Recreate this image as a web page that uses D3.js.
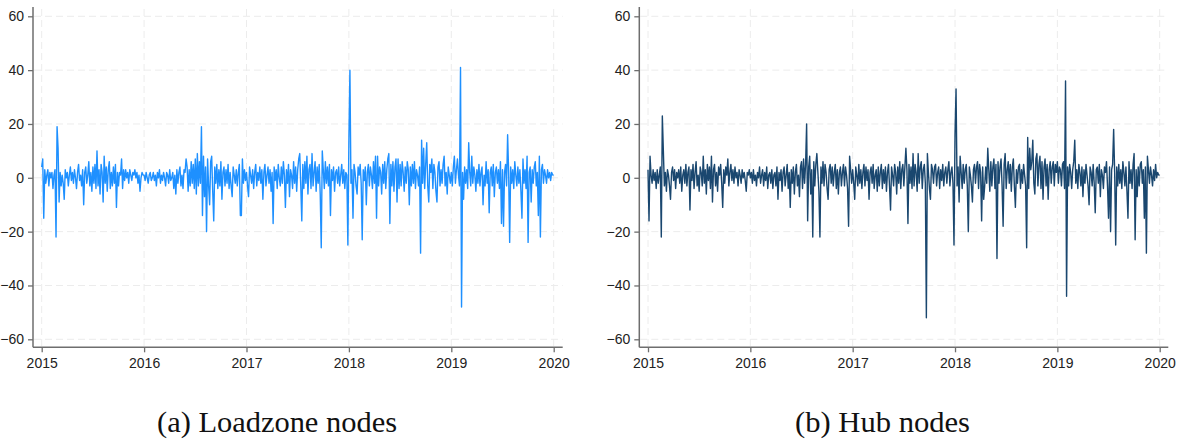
<!DOCTYPE html>
<html><head><meta charset="utf-8">
<script src="https://cdn.jsdelivr.net/npm/d3@7"></script>
<style>body{margin:0;background:#fff} svg{display:block}</style>
</head><body>
<svg id="c" width="1183" height="439"></svg>
<script>
// ---- data ----
const years = [2015, 2016, 2017, 2018, 2019];
const yTicks = [-60, -40, -20, 0, 20, 40, 60];
const xTicks = [2015, 2016, 2017, 2018, 2019, 2020];
const captions = ["(a) Loadzone nodes", "(b) Hub nodes"];

// Loadzone nodes (estimated values, ~100 samples per year)
const lz2015 = [4,7,-15,3,-2,1,3,-3,2,0, 2,-4,1,3,-22,19,11,-9,2,-3, 1,-2,-8,3,0,2,-3,1,4,-1, 2,-2,3,0,-4,2,5,-1,1,-3,
  3,-10,2,4,-2,1,6,-3,2,-5, 4,-2,5,-4,10,-3,3,-6,5,2, -9,8,-2,4,-5,3,6,-4,2,-3, 4,-2,5,-11,2,-3,2,1,7,-4,
  3,-1,3,0,2,-2,3,1,-1,2, 1,3,0,2,-2,1,-5,0,2,1];
const lz2016 = [1,-1,2,0,-2,1,2,-1,0,2, -1,1,-3,2,0,3,-2,1,-1,2, 0,-3,2,1,-2,3,-1,0,2,-4, 1,-6,3,-2,2,4,-3,1,-4,3,
  2,7,4,-5,3,-3,6,-2,5,-4, 7,-6,9,-3,6,-2,19,-14,8,-7, 4,-20,7,-3,-10,6,8,-5,-16,4, -2,5,-4,3,-3,6,-8,2,4,-3,
  3,-2,5,-4,2,-3,-7,4,1,-2, 3,-3,2,5,-14,-14,7,-2,3,-1];
const lz2017 = [2,-3,-7,4,1,-2,3,-4,2,5, -3,2,-1,4,-2,3,-8,2,5,-3, 1,4,-2,3,-5,2,-17,4,-1,3, -4,5,0,-3,4,-2,6,1,-11,3,
  -2,5,-7,3,1,-4,6,-2,4,-5, 3,7,9,-3,-16,5,-4,6,-2,8, -6,3,5,-4,9,-3,2,6,-5,4, -2,5,-6,-26,10,3,-4,6,-2,4,
  -3,5,-14,3,-1,4,-5,2,3,-2, 4,-3,1,5,-2,3,-4,2,1,-25];
const lz2018 = [14,40,-2,3,-15,5,2,-3,-6,4, 1,5,-2,-23,3,-1,4,-10,2,5, -3,4,1,-4,6,-2,8,-15,8,-3, 4,2,-6,5,-2,6,-4,3,7,9,
  -17,5,-3,6,-5,4,7,-9,7,-4, 5,-3,6,2,-5,4,-2,6,3,-10, 4,-3,5,-2,6,-4,3,1,-3,4, -28,14,-2,11,-4,5,13,-3,-9,5,
  2,7,-4,5,2,-5,-9,4,6,-3, 3,-2,5,8,-3,2,-6,4,1,-2];
const lz2019 = [2,-3,4,8,-2,3,7,1,-3,41, -48,2,-8,4,-2,3,-4,13,2,-3, 8,-2,4,1,-5,3,-2,5,-3,2, 4,-10,1,-3,6,-2,3,-13,2,4,
  -3,5,-7,2,4,-2,3,-4,6,-17, 3,-18,2,5,-3,16,2,-24,4,-2, 3,-4,6,1,-3,4,-2,3,-5,-15, 7,-2,3,-4,8,-24,2,4,-9,3,
  -2,4,6,-3,2,-14,8,-22,3,5, -2,3,1,-2,3,0,2,-1,2,1];
const lzEnd = 1;

// Hub nodes (estimated values, ~100 samples per year)
const hub2015 = [3,-16,8,1,-2,3,-1,2,-4,3, -2,1,4,-22,23,10,-3,2,-5,3, 1,-3,-8,2,4,-1,3,-4,2,0, 3,-2,4,-5,1,3,-2,5,-3,2,
  4,-12,3,-1,5,-4,2,6,-3,1, -5,4,2,-3,8,-2,3,-6,5,-1, 4,-4,8,-9,3,5,-3,2,-5,4, 1,5,-2,-11,3,-2,4,1,7,-3,
  2,5,-1,3,-2,4,0,2,-3,3, 1,-2,3,0,2,-1,-5,2,1,3];
const hub2016 = [0,2,-2,3,-1,1,-3,2,0,4, -2,1,3,-3,2,-1,4,-4,1,2, -2,3,-4,1,2,-3,4,-8,2,-1, 3,-5,2,4,-3,1,5,-4,2,-11,
  3,-2,4,-6,2,5,-3,1,-7,4, 6,-4,7,-2,5,20,-16,4,8,-6, 3,-22,6,-3,5,9,2,-5,-22,4, -2,6,-3,5,2,-4,-8,3,5,-2,
  4,-3,2,5,-4,3,-6,2,4,-3, 2,5,-3,4,1,-4,-18,8,3,-2];
const hub2017 = [3,-2,-8,4,1,-3,5,-2,3,-4, 2,5,-3,4,-1,3,-8,2,4,-2, 5,-4,1,3,-5,4,-3,2,5,-4, 3,-2,4,-5,2,5,-3,-12,4,1,
  -3,5,2,-6,4,-2,6,-4,3,5, -3,4,11,3,-17,5,-2,4,-4,9, -3,5,2,-5,9,-2,4,6,-4,3, 5,-2,-52,9,2,-4,-8,5,3,-2,
  4,5,-3,2,4,-4,3,-1,5,-3, 2,4,-2,3,6,-3,2,4,-2,-25];
const hub2018 = [16,33,-3,4,-9,8,2,-4,5,-2, 3,5,-3,-20,4,1,-3,-9,3,5, -2,4,6,-4,5,2,-16,4,-8,-3, 4,-2,11,3,-5,6,-3,4,7,-4,
  5,-30,6,-2,4,7,-3,-18,5,9, -4,3,6,-2,5,-5,4,7,-3,-11, 3,-2,4,5,-4,3,-2,5,1,-3, -26,15,-4,11,3,6,14,-2,-6,7,
  9,-3,5,8,-4,6,-8,4,7,-3, 5,-8,3,6,-2,4,6,-3,5,2];
const hub2019 = [6,-2,4,3,-3,5,6,-4,36,-44, 4,-3,5,2,-4,3,6,14,-2,3, -4,5,2,-3,4,-7,3,-2,5,1, -3,-10,4,2,-3,5,-2,-13,3,4,
  -2,5,-7,3,1,-4,4,2,6,-3, -15,4,-20,3,5,18,2,-25,4,-3, 5,-2,3,-4,6,2,-3,4,-5,-15, 6,-2,3,-4,5,9,-23,3,-7,4,
  -3,5,6,-2,3,-15,4,-28,8,3, -2,4,1,-3,3,-1,5,0,2,1];
const hubEnd = 1;

// ---- build series ----
function series(arrs, endVal) {
  const out = [];
  arrs.forEach((a, k) => a.forEach((v, i) => out.push([years[k] + i / a.length, v])));
  out.push([2020, endVal]);
  return out;
}
const lzSeries = series([lz2015, lz2016, lz2017, lz2018, lz2019], lzEnd);
const hubSeries = series([hub2015, hub2016, hub2017, hub2018, hub2019], hubEnd);

const panels = [
  {data: lzSeries, color: "#1e90ff", axisX: 33, x0: 41.7, x1: 553.7, xEnd: 562.7, cap: captions[0], capX: 277, capW: 240},
  {data: hubSeries, color: "#1a476f", axisX: 639.3, x0: 648, x1: 1159.7, xEnd: 1168.3, cap: captions[1], capX: 882.5, capW: 175}
];

const svg = d3.select("#c");
const yTop = 7, yBot = 347.3;
const y = d3.scaleLinear().domain([-60, 60]).range([339.3, 16.3]);

panels.forEach(p => {
  const g = svg.append("g");
  const x = d3.scaleLinear().domain([2015, 2020]).range([p.x0, p.x1]);

  // grid
  g.append("g").selectAll("line").data(yTicks).join("line")
    .attr("x1", p.axisX + 1).attr("x2", p.xEnd)
    .attr("y1", d => y(d)).attr("y2", d => y(d))
    .attr("stroke", "#ececec").attr("stroke-width", 1).attr("stroke-dasharray", "7,4");
  g.append("g").selectAll("line").data(xTicks).join("line")
    .attr("x1", d => x(d)).attr("x2", d => x(d))
    .attr("y1", yTop + 2).attr("y2", yBot - 1)
    .attr("stroke", "#ececec").attr("stroke-width", 1).attr("stroke-dasharray", "7,4");

  // line
  const line = d3.line().x(d => x(d[0])).y(d => y(d[1]));
  g.append("path").datum(p.data).attr("d", line)
    .attr("fill", "none").attr("stroke", p.color).attr("stroke-width", 1.4)
    .attr("stroke-linejoin", "round");

  // axes
  const ya = g.append("g").attr("transform", `translate(${p.axisX},0)`)
    .call(d3.axisLeft(y).tickValues(yTicks).tickSize(5).tickPadding(4));
  ya.select(".domain").remove();
  const xa = g.append("g").attr("transform", `translate(0,${yBot})`)
    .call(d3.axisBottom(x).tickValues(xTicks).tickFormat(d3.format("d")).tickSize(5).tickPadding(6));
  xa.select(".domain").remove();
  [ya, xa].forEach(a => {
    a.selectAll("line").attr("stroke", "#6e6e6e").attr("stroke-width", 1.3);
    a.selectAll("text").attr("fill", "#222").style("font-family", "'Liberation Sans', Arial, sans-serif").style("font-size", "14px");
  });
  g.append("line").attr("x1", p.axisX).attr("x2", p.axisX).attr("y1", yTop).attr("y2", yBot)
    .attr("stroke", "#6e6e6e").attr("stroke-width", 1.5);
  g.append("line").attr("x1", p.axisX).attr("x2", p.xEnd).attr("y1", yBot).attr("y2", yBot)
    .attr("stroke", "#6e6e6e").attr("stroke-width", 1.5);

  // caption
  g.append("text").attr("x", p.capX).attr("y", 432).attr("text-anchor", "middle")
    .attr("textLength", p.capW).attr("lengthAdjust", "spacingAndGlyphs")
    .style("font-family", "'Liberation Serif', 'Times New Roman', serif").style("font-size", "30px")
    .attr("fill", "#111").text(p.cap);
});
</script>
</body></html>
